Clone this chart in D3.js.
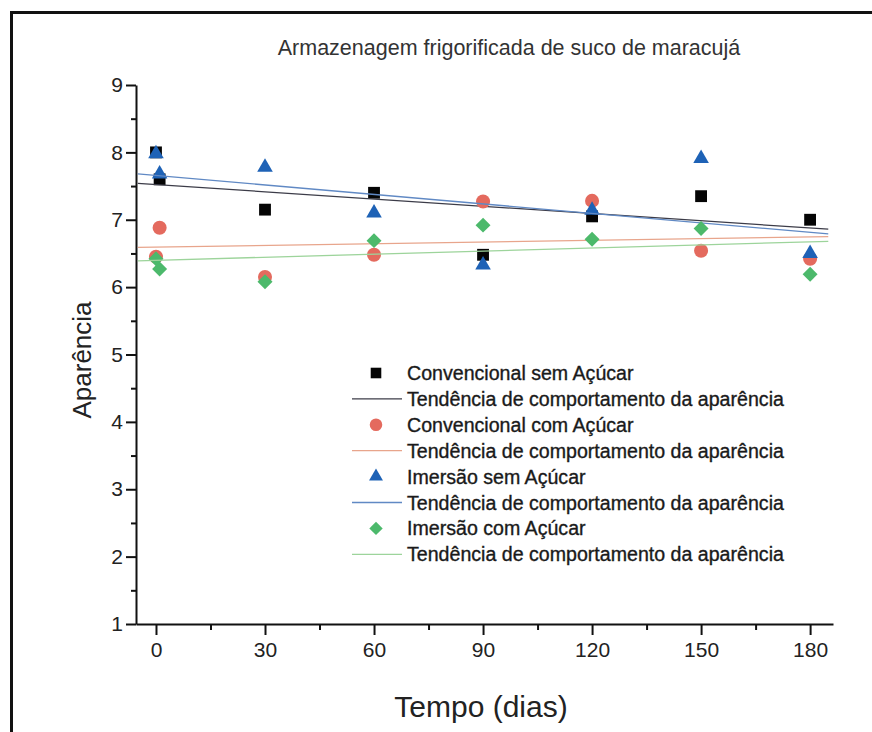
<!DOCTYPE html>
<html>
<head>
<meta charset="utf-8">
<script src="https://cdnjs.cloudflare.com/ajax/libs/d3/7.8.5/d3.min.js"></script>
<style>
  body { margin: 0; background: #fff; }
  svg { display: block; font-family: "Liberation Sans", Arial, sans-serif; }
</style>
</head>
<body>
<svg id="graphAparencia"></svg>
<script>
// valores
const dias = [0, 1, 30, 60, 90, 120, 150, 180];
const convencionalSem = [8.0, 7.6, 7.15, 7.40, 6.48, 7.05, 7.35, 7.00];
const convencionalCom = [6.45, 6.88, 6.15, 6.48, 7.27, 7.28, 6.54, 6.42];
const imersaoSem = [7.98, 7.68, 7.78, 7.10, 6.33, 7.14, 7.91, 6.50];
const imersaoCom = [6.42, 6.27, 6.08, 6.69, 6.92, 6.71, 6.87, 6.19];

// tendencias (extremos das retas)
const tendenciaDias = [-5, 185];
const tendConvSem = [7.54, 6.86];
const tendConvCom = [6.59, 6.75];
const tendImerSem = [7.68, 6.79];
const tendImerCom = [6.39, 6.68];

const xTicks = [0, 30, 60, 90, 120, 150, 180];
const xMinor = [15, 45, 75, 105, 135, 165];
const yTicks = [1, 2, 3, 4, 5, 6, 7, 8, 9];
const yMinor = [1.5, 2.5, 3.5, 4.5, 5.5, 6.5, 7.5, 8.5];

const titulo = "Armazenagem frigorificada de suco de maracujá";
const tituloX = "Tempo (dias)";
const tituloY = "Aparência";
const nomeTendencia = "Tendência de comportamento da aparência";

function AparenciaPlot() {
    let self = this;

    function initPlot() {
        let width = 872, height = 732;
        self.graph = d3.select('#graphAparencia')
            .attr("width", width)
            .attr("height", height);

        self.graph.append("rect")
            .attr("width", width).attr("height", height)
            .style("fill", "#fff");

        // moldura
        self.graph.append("rect")
            .attr("x", 11.5).attr("y", 12.5)
            .attr("width", 900).attr("height", 800)
            .style("fill", "none")
            .style("stroke", "#111")
            .style("stroke-width", 3);

        self.x = d3.scaleLinear().domain([-5.5, 186.3]).range([136, 833]);
        self.y = d3.scaleLinear().domain([1, 9]).range([624, 85]);

        self.series = [
            {name: "Convencional sem Açúcar", values: convencionalSem, trend: tendConvSem,
                symbol: d3.symbolSquare, size: 140, rotate: 0, color: "#050505", lineColor: "#3c3c48"},
            {name: "Convencional com Açúcar", values: convencionalCom, trend: tendConvCom,
                symbol: d3.symbolCircle, size: 155, rotate: 0, color: "#e46a5e", lineColor: "#e8a58c"},
            {name: "Imersão sem Açúcar", values: imersaoSem, trend: tendImerSem,
                symbol: d3.symbolTriangle, size: 105, rotate: 0, color: "#1e62b6", lineColor: "#6089c4"},
            {name: "Imersão com Açúcar", values: imersaoCom, trend: tendImerCom,
                symbol: d3.symbolSquare, size: 112, rotate: 45, color: "#4cb96b", lineColor: "#9dd49b"}
        ];

        // titulo
        self.graph.append("text")
            .attr("x", 509).attr("y", 55)
            .attr("text-anchor", "middle")
            .style("font-size", "21.5px")
            .style("fill", "#333")
            .text(titulo);

        // eixo Y
        self.graph.append("g")
            .attr("transform", "translate(136,0)")
            .call(d3.axisLeft(self.y).tickValues(yTicks).tickSize(10).tickPadding(3).tickSizeOuter(0));
        self.graph.append("g")
            .attr("transform", "translate(136,0)")
            .call(d3.axisLeft(self.y).tickValues(yMinor).tickSize(5).tickFormat(""))
            .select(".domain").remove();

        // eixo X
        self.graph.append("g")
            .attr("transform", "translate(0,624)")
            .call(d3.axisBottom(self.x).tickValues(xTicks).tickSize(11).tickPadding(7).tickSizeOuter(0));
        self.graph.append("g")
            .attr("transform", "translate(0,624)")
            .call(d3.axisBottom(self.x).tickValues(xMinor).tickSize(6).tickFormat(""))
            .select(".domain").remove();

        self.graph.selectAll(".tick line, .domain")
            .style("stroke", "#111")
            .style("stroke-width", 2);
        self.graph.selectAll(".tick text")
            .style("font-size", "21px")
            .style("font-family", "'Liberation Sans', Arial, sans-serif")
            .style("fill", "#222");

        self.graph.append("text")
            .attr("x", 481).attr("y", 717)
            .attr("text-anchor", "middle")
            .style("font-size", "30px")
            .style("fill", "#222")
            .text(tituloX);

        self.graph.append("text")
            .attr("transform", "translate(91,360) rotate(-90)")
            .attr("text-anchor", "middle")
            .style("font-size", "26px")
            .style("fill", "#222")
            .text(tituloY);

        self.plot = self.graph.append("g");
        self.line = d3.line()
            .x(function (d) { return self.x(d[0]); })
            .y(function (d) { return self.y(d[1]); });
    }

    function plotSeries() {
        self.series.forEach(function (s) {
            let pts = dias.map(function (d, i) { return [d, s.values[i]]; });
            let sym = d3.symbol().type(s.symbol).size(s.size);
            self.plot.append("g").selectAll("path")
                .data(pts).enter()
                .append("path")
                .attr("d", sym)
                .attr("transform", function (d) {
                    return "translate(" + self.x(d[0]) + "," + self.y(d[1]) + ") rotate(" + s.rotate + ")";
                })
                .style("fill", s.color);

            let tr = tendenciaDias.map(function (d, i) { return [d, s.trend[i]]; });
            self.plot.append("path")
                .datum(tr)
                .attr("d", self.line)
                .style("fill", "none")
                .style("stroke", s.lineColor)
                .style("stroke-width", 1.3);
        });
    }

    function plotLegend() {
        let rows = [];
        self.series.forEach(function (s) {
            rows.push({type: "marker", s: s, label: s.name});
            rows.push({type: "line", s: s, label: nomeTendencia});
        });

        self.legend = self.graph.selectAll(".legend")
            .data(rows).enter()
            .append("g")
            .attr("class", "legend")
            .attr("transform", function (d, i) { return "translate(0," + (373 + 25.9 * i) + ")"; });

        self.legend.each(function (d) {
            let g = d3.select(this);
            if (d.type === "marker") {
                g.append("path")
                    .attr("d", d3.symbol().type(d.s.symbol).size(d.s.size * 0.8))
                    .attr("transform", "translate(376,0) rotate(" + d.s.rotate + ")")
                    .style("fill", d.s.color);
            } else {
                g.append("line")
                    .attr("x1", 352).attr("x2", 402)
                    .style("stroke", d.s.lineColor)
                    .style("stroke-width", 1.3);
            }
        });

        self.legend.append("text")
            .attr("x", 407)
            .attr("dy", "0.36em")
            .style("font-size", "19.6px")
            .style("fill", "#1a1a1a")
            .style("stroke", "#1a1a1a")
            .style("stroke-width", 0.35)
            .text(function (d) { return d.label; });
    }

    return {
        initPlot, plotSeries, plotLegend
    }
}

let grafico = AparenciaPlot();
grafico.initPlot();
grafico.plotSeries();
grafico.plotLegend();
</script>
</body>
</html>
